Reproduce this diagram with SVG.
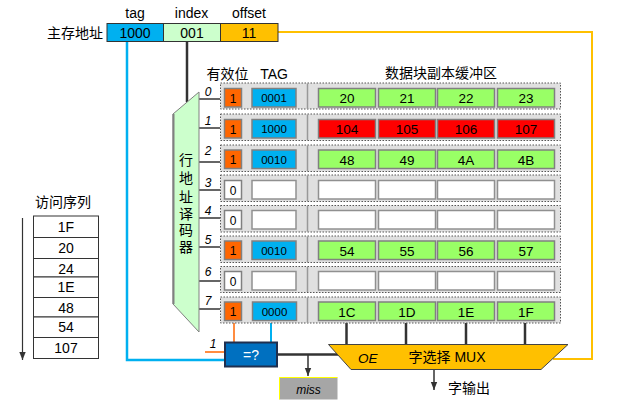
<svg xmlns="http://www.w3.org/2000/svg" width="619" height="410" viewBox="0 0 619 410">
<defs>
<style>
text{font-family:"Liberation Sans","Noto Sans CJK SC",sans-serif;fill:#000}
.t14{font-size:14px}
.t13{font-size:13.5px}
.t12{font-size:12px}
.t11{font-size:11.5px}
.c{text-anchor:middle}
.it{font-style:italic}
.row{fill:#e0e0e0;stroke:#555;stroke-width:1;stroke-dasharray:1.5 1.5}
.sep{stroke:#999;stroke-width:1.5}
.v1{fill:#ff6600;stroke:#808080;stroke-width:1.5}
.v0{fill:#fff;stroke:#808080;stroke-width:1.5}
.tg{fill:#00b0f0;stroke:#808080;stroke-width:1.5}
.te{fill:#fff;stroke:#909090;stroke-width:1.5}
.dg{fill:#99ff66;stroke:#808080;stroke-width:1.5}
.dr{fill:#ff0000;stroke:#808080;stroke-width:1.5}
.de{fill:#fff;stroke:#909090;stroke-width:1.5}
.wire{stroke:#000;stroke-width:1.2;fill:none}
.bus{stroke:#333;stroke-width:2.5;fill:none}
.tbl{fill:#fff;stroke:#333;stroke-width:1}
</style>
<marker id="arrd" viewBox="0 0 10 10" refX="10" refY="5" markerWidth="8" markerHeight="8" orient="auto" markerUnits="userSpaceOnUse">
<path d="M0,1 L10,5 L0,9 Z" fill="#333"/>
</marker>
</defs>

<g id="connectors">
<polyline points="127,42 127,360 224,360" fill="none" stroke="#00b0f0" stroke-width="2.5"/>
<line x1="187" y1="42" x2="187" y2="102" class="bus"/>
<polyline points="278,32 592,32 592,359 553,359" fill="none" stroke="#ffc000" stroke-width="2"/>
<line x1="199" y1="99" x2="220" y2="99" class="wire"/>
<line x1="199" y1="128" x2="220" y2="128" class="wire"/>
<line x1="199" y1="162" x2="220" y2="162" class="wire"/>
<line x1="199" y1="190" x2="220" y2="190" class="wire"/>
<line x1="199" y1="218" x2="220" y2="218" class="wire"/>
<line x1="199" y1="247" x2="220" y2="247" class="wire"/>
<line x1="199" y1="281" x2="220" y2="281" class="wire"/>
<line x1="199" y1="309" x2="220" y2="309" class="wire"/>
<line x1="234" y1="323" x2="234" y2="342" stroke="#ff6600" stroke-width="1.5"/>
<line x1="271" y1="323" x2="271" y2="342" stroke="#00b0f0" stroke-width="2"/>
<line x1="205" y1="352" x2="224" y2="352" stroke="#ff6600" stroke-width="1.5"/>
<line x1="277" y1="354.5" x2="338" y2="354.5" class="bus"/>
<line x1="308" y1="354.5" x2="308" y2="376" stroke="#333" stroke-width="1.5" marker-end="url(#arrd)"/>
<line x1="346.5" y1="323" x2="346.5" y2="344" class="bus"/>
<line x1="406" y1="323" x2="406" y2="344" class="bus"/>
<line x1="466" y1="323" x2="466" y2="344" class="bus"/>
<line x1="525" y1="323" x2="525" y2="344" class="bus"/>
<line x1="434" y1="369" x2="434" y2="390" stroke="#333" stroke-width="1.5" marker-end="url(#arrd)"/>
<line x1="22.5" y1="218" x2="22.5" y2="360" stroke="#333" stroke-width="1.2" marker-end="url(#arrd)"/>
</g>

<g id="address">
<text x="103" y="38" class="t14" text-anchor="end">主存地址</text>
<text x="135" y="18" class="t14 c">tag</text>
<text x="191.5" y="18" class="t14 c">index</text>
<text x="249" y="18" class="t14 c">offset</text>
<rect x="107" y="23.5" width="56.5" height="18" fill="#00b0f0" stroke="#333" stroke-width="1"/>
<rect x="163.5" y="23.5" width="57" height="18" fill="#ccffcc" stroke="#333" stroke-width="1"/>
<rect x="220.5" y="23.5" width="57.5" height="18" fill="#ffc000" stroke="#333" stroke-width="1"/>
<text x="135" y="37.5" class="t14 c">1000</text>
<text x="192" y="37.5" class="t14 c">001</text>
<text x="249" y="37.5" class="t14 c">11</text>
</g>

<g id="decoder">
<polygon points="173,114 199,92 199,332 173,304" fill="#ccffcc" stroke="#808080" stroke-width="1"/>
<line x1="173.5" y1="114" x2="173.5" y2="304" stroke="#808080" stroke-width="2"/>
<text x="186" y="165" class="t14 c">行</text>
<text x="186" y="183" class="t14 c">地</text>
<text x="186" y="201.5" class="t14 c">址</text>
<text x="186" y="218.5" class="t14 c">译</text>
<text x="186" y="235" class="t14 c">码</text>
<text x="186" y="252" class="t14 c">器</text>
</g>

<g id="headers">
<text x="227.5" y="79" class="t14 c">有效位</text>
<text x="274" y="79" class="t14 c">TAG</text>
<text x="441" y="78" class="t14 c">数据块副本缓冲区</text>
</g>

<g id="row-labels">
<text x="208" y="96" class="t12 c it">0</text>
<text x="208" y="125" class="t12 c it">1</text>
<text x="208" y="155" class="t12 c it">2</text>
<text x="208" y="187" class="t12 c it">3</text>
<text x="208" y="215" class="t12 c it">4</text>
<text x="208" y="244" class="t12 c it">5</text>
<text x="208" y="276" class="t12 c it">6</text>
<text x="208" y="305" class="t12 c it">7</text>
</g>

<g id="row0">
<rect x="220.5" y="83" width="340" height="26" class="row"/>
<line x1="307.5" y1="83.5" x2="307.5" y2="108.5" class="sep"/>
<rect x="224.5" y="88.5" width="17" height="18.5" class="v1"/><text x="233" y="102.5" class="t12 c">1</text>
<rect x="252" y="88.5" width="44" height="18.5" class="tg"/><text x="274" y="102" class="t11 c">0001</text>
<rect x="318.5" y="88.5" width="57" height="18.5" class="dg"/><text x="347" y="103" class="t13 c">20</text>
<rect x="378.5" y="88.5" width="57" height="18.5" class="dg"/><text x="407" y="103" class="t13 c">21</text>
<rect x="437.5" y="88.5" width="57" height="18.5" class="dg"/><text x="466" y="103" class="t13 c">22</text>
<rect x="497.5" y="88.5" width="57" height="18.5" class="dg"/><text x="526" y="103" class="t13 c">23</text>
</g>

<g id="row1">
<rect x="220.5" y="114" width="340" height="26.5" class="row"/>
<line x1="307.5" y1="114.5" x2="307.5" y2="140" class="sep"/>
<rect x="224.5" y="119.5" width="17" height="18.5" class="v1"/><text x="233" y="133.5" class="t12 c">1</text>
<rect x="252" y="119.5" width="44" height="18.5" class="tg"/><text x="274" y="133" class="t11 c">1000</text>
<rect x="318.5" y="119.5" width="57" height="18.5" class="dr"/><text x="347" y="134" class="t13 c">104</text>
<rect x="378.5" y="119.5" width="57" height="18.5" class="dr"/><text x="407" y="134" class="t13 c">105</text>
<rect x="437.5" y="119.5" width="57" height="18.5" class="dr"/><text x="466" y="134" class="t13 c">106</text>
<rect x="497.5" y="119.5" width="57" height="18.5" class="dr"/><text x="526" y="134" class="t13 c">107</text>
</g>

<g id="row2">
<rect x="220.5" y="145" width="340" height="26.5" class="row"/>
<line x1="307.5" y1="145.5" x2="307.5" y2="171" class="sep"/>
<rect x="224.5" y="150" width="17" height="18.5" class="v1"/><text x="233" y="164" class="t12 c">1</text>
<rect x="252" y="150" width="44" height="18.5" class="tg"/><text x="274" y="163.5" class="t11 c">0010</text>
<rect x="318.5" y="150" width="57" height="18.5" class="dg"/><text x="347" y="164.5" class="t13 c">48</text>
<rect x="378.5" y="150" width="57" height="18.5" class="dg"/><text x="407" y="164.5" class="t13 c">49</text>
<rect x="437.5" y="150" width="57" height="18.5" class="dg"/><text x="466" y="164.5" class="t13 c">4A</text>
<rect x="497.5" y="150" width="57" height="18.5" class="dg"/><text x="526" y="164.5" class="t13 c">4B</text>
</g>

<g id="row3">
<rect x="220.5" y="175" width="340" height="26.5" class="row"/>
<line x1="307.5" y1="175.5" x2="307.5" y2="201" class="sep"/>
<rect x="224.5" y="180.5" width="17" height="18.5" class="v0"/><text x="233" y="194.5" class="t12 c">0</text>
<rect x="252" y="180.5" width="44" height="18.5" class="te"/>
<rect x="318.5" y="180.5" width="57" height="18.5" class="de"/>
<rect x="378.5" y="180.5" width="57" height="18.5" class="de"/>
<rect x="437.5" y="180.5" width="57" height="18.5" class="de"/>
<rect x="497.5" y="180.5" width="57" height="18.5" class="de"/>
</g>

<g id="row4">
<rect x="220.5" y="205.5" width="340" height="26.5" class="row"/>
<line x1="307.5" y1="206" x2="307.5" y2="231.5" class="sep"/>
<rect x="224.5" y="210.5" width="17" height="18.5" class="v0"/><text x="233" y="224.5" class="t12 c">0</text>
<rect x="252" y="210.5" width="44" height="18.5" class="te"/>
<rect x="318.5" y="210.5" width="57" height="18.5" class="de"/>
<rect x="378.5" y="210.5" width="57" height="18.5" class="de"/>
<rect x="437.5" y="210.5" width="57" height="18.5" class="de"/>
<rect x="497.5" y="210.5" width="57" height="18.5" class="de"/>
</g>

<g id="row5">
<rect x="220.5" y="236" width="340" height="26.5" class="row"/>
<line x1="307.5" y1="236.5" x2="307.5" y2="262" class="sep"/>
<rect x="224.5" y="241" width="17" height="18.5" class="v1"/><text x="233" y="255" class="t12 c">1</text>
<rect x="252" y="241" width="44" height="18.5" class="tg"/><text x="274" y="254.5" class="t11 c">0010</text>
<rect x="318.5" y="241" width="57" height="18.5" class="dg"/><text x="347" y="255.5" class="t13 c">54</text>
<rect x="378.5" y="241" width="57" height="18.5" class="dg"/><text x="407" y="255.5" class="t13 c">55</text>
<rect x="437.5" y="241" width="57" height="18.5" class="dg"/><text x="466" y="255.5" class="t13 c">56</text>
<rect x="497.5" y="241" width="57" height="18.5" class="dg"/><text x="526" y="255.5" class="t13 c">57</text>
</g>

<g id="row6">
<rect x="220.5" y="266.5" width="340" height="26" class="row"/>
<line x1="307.5" y1="267" x2="307.5" y2="292" class="sep"/>
<rect x="224.5" y="271.5" width="17" height="18.5" class="v0"/><text x="233" y="285.5" class="t12 c">0</text>
<rect x="252" y="271.5" width="44" height="18.5" class="te"/>
<rect x="318.5" y="271.5" width="57" height="18.5" class="de"/>
<rect x="378.5" y="271.5" width="57" height="18.5" class="de"/>
<rect x="437.5" y="271.5" width="57" height="18.5" class="de"/>
<rect x="497.5" y="271.5" width="57" height="18.5" class="de"/>
</g>

<g id="row7">
<rect x="220.5" y="297" width="340" height="26" class="row"/>
<line x1="307.5" y1="297.5" x2="307.5" y2="322.5" class="sep"/>
<rect x="224.5" y="302" width="17" height="18.5" class="v1"/><text x="233" y="316" class="t12 c">1</text>
<rect x="252.5" y="302" width="44" height="18.5" class="tg"/><text x="274.5" y="315.5" class="t11 c">0000</text>
<rect x="318.5" y="302" width="57" height="18.5" class="dg"/><text x="347" y="316.5" class="t13 c">1C</text>
<rect x="378.5" y="302" width="57" height="18.5" class="dg"/><text x="407" y="316.5" class="t13 c">1D</text>
<rect x="437.5" y="302" width="57" height="18.5" class="dg"/><text x="466" y="316.5" class="t13 c">1E</text>
<rect x="497.5" y="302" width="57" height="18.5" class="dg"/><text x="526" y="316.5" class="t13 c">1F</text>
</g>

<g id="comparator">
<rect x="225" y="342.5" width="52" height="24" fill="#0070c0" stroke="#1f2f4f" stroke-width="2"/>
<text x="251" y="360" class="t14 c" style="fill:#fff">=?</text>
<text x="213" y="348" class="t12 c it">1</text>
</g>

<g id="miss">
<rect x="279.5" y="377.5" width="58" height="22" fill="#a6a6a6"/>
<polyline points="279.5,399.5 279.5,377.5 337.5,377.5" fill="none" stroke="#ffff00" stroke-width="1"/>
<text x="308.5" y="393.5" class="t12 c it">miss</text>
</g>

<g id="mux">
<polygon points="328.5,344.5 568,344.5 541,369.5 351,369.5" fill="#ffc000" stroke="#444" stroke-width="1"/>
<text x="358" y="363" class="t13 it">OE</text>
<text x="447" y="362" class="t14 c">字选择 MUX</text>
<text x="448" y="393" class="t14">字输出</text>
</g>

<g id="sequence">
<text x="63" y="207" class="t14 c">访问序列</text>
<rect x="33.5" y="216" width="65" height="21.5" class="tbl"/><text x="66" y="232" class="t14 c">1F</text>
<rect x="33.5" y="237.5" width="65" height="21" class="tbl"/><text x="66" y="253" class="t14 c">20</text>
<rect x="33.5" y="258.5" width="65" height="18.5" class="tbl"/><text x="66" y="273.5" class="t14 c">24</text>
<rect x="33.5" y="277" width="65" height="20.5" class="tbl"/><text x="66" y="292" class="t14 c">1E</text>
<rect x="33.5" y="297.5" width="65" height="19.5" class="tbl"/><text x="66" y="312.5" class="t14 c">48</text>
<rect x="33.5" y="317" width="65" height="20.5" class="tbl"/><text x="66" y="332" class="t14 c">54</text>
<rect x="33.5" y="337.5" width="65" height="21" class="tbl"/><text x="66" y="353" class="t14 c">107</text>
</g>
</svg>
